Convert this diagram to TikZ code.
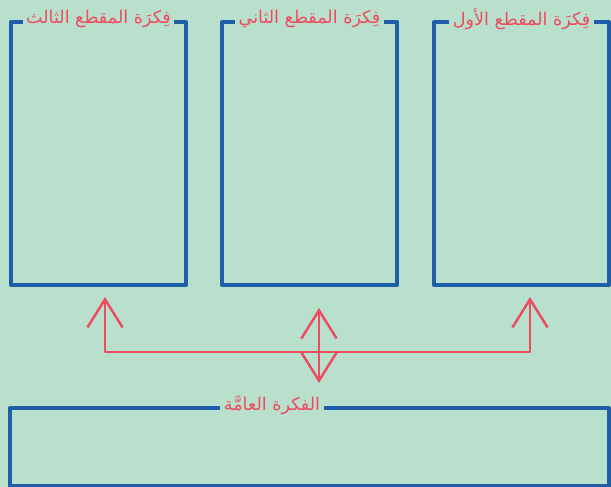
\documentclass[tikz,border=0pt]{standalone}
\usepackage{fontspec}
\usepackage{tikz}
\usetikzlibrary{arrows.meta}
\newfontfamily\arabicfont[Script=Arabic]{DejaVu Sans}
\TeXXeTstate=1
\definecolor{MintBg}{HTML}{B9E0CD}
\definecolor{FrameBlue}{HTML}{1F5FA8}
\definecolor{IdeaRed}{HTML}{EE4B5E}

\begin{document}
\begin{tikzpicture}[x=0.03cm,y=-0.03cm,line join=round]
   \fill[MintBg] (0,0) rectangle (611,487);
   \useasboundingbox (0,0) rectangle (611,487);
   \tikzstyle{part}=[draw=FrameBlue, line width=3.4pt, minimum width=5.25cm, minimum height=7.89cm, inner sep=0pt]
   \tikzstyle{title}=[fill=MintBg, text=IdeaRed, inner sep=3pt, yshift=1pt, font=\arabicfont\fontsize{15}{17}\selectfont]
   \tikzstyle{link}=[draw=IdeaRed, line width=2.1pt, {Straight Barb[length=24pt,width=30pt]}-{Straight Barb[length=24pt,width=30pt]}]
   \foreach \i/\x/\word in {1/521.5/{فِكرَة المقطع الأول},2/309.5/{فِكرَة المقطع الثاني},3/98.5/{فِكرَة المقطع الثالث}} {
       \node[part] (p\i) at (\x,153.5) {};
       \node[title] (t\i) at (p\i.north) {\beginR\word\endR};
   }
   \node[part, minimum width=17.98cm, minimum height=2.34cm] (whole) at (309.25,447) {};
   \node[title] (wt) at (272,407) {\beginR الفكرة العامَّة\endR};
   \coordinate (left) at (105,297);
   \coordinate (right) at (530,297);
   \coordinate (jl) at (105,352);
   \coordinate (jr) at (530,352);
   \coordinate (mtop) at (319,308);
   \coordinate (mbot) at (319,383);
   \path[link] (left) -- (jl) -- (jr) -- (right);
   \path[link] (mtop) -- (mbot);
\end{tikzpicture}
\end{document}
